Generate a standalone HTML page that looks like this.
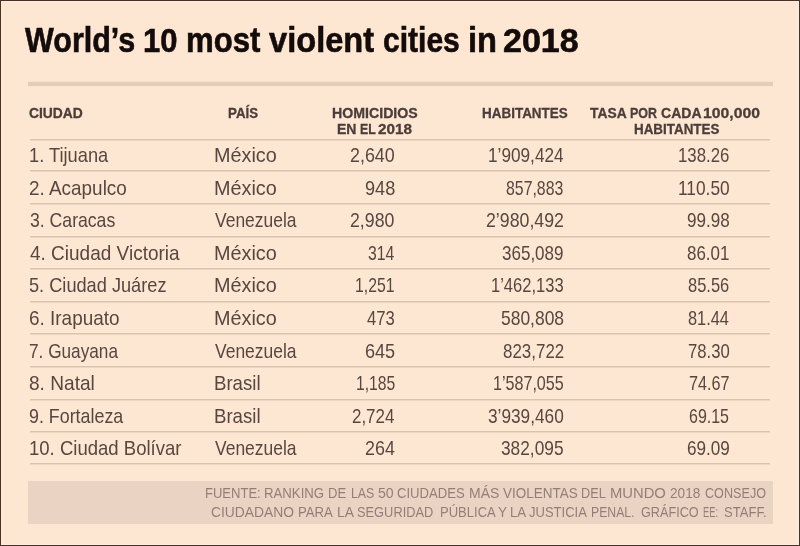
<!DOCTYPE html>
<html><head><meta charset="utf-8"><title>World’s 10 most violent cities in 2018</title>
<style>
html,body{margin:0;padding:0;width:800px;height:546px;overflow:hidden;background:#fde6d2}
#bd{position:absolute;left:0;top:0;width:800px;height:546px;box-sizing:border-box;border:1px solid #4a3122;box-shadow:inset 0 0 0 1px #fdece0;z-index:5}
span{position:absolute;white-space:nowrap;transform-origin:0 0;font-family:"Liberation Sans",sans-serif}
.title{font-size:35px;line-height:42px;font-weight:700;color:#140c0a;-webkit-text-stroke:0.6px #140c0a}
.h{font-size:14.5px;line-height:17px;font-weight:700;color:#4b3d39;-webkit-text-stroke:0.3px #4b3d39}
.c{font-size:21px;line-height:25px;font-weight:400;color:#584741}
.f{font-size:15px;line-height:18px;font-weight:400;color:#937e77}
.thick{position:absolute;left:28px;width:745px;top:82px;height:4px;background:#e4cdb7;box-shadow:0 -1px 0 #f6e3cf,0 1px 0 #f8e6d3}
.ln{position:absolute;left:30px;width:740px;height:1px;background:#d9c1ab;box-shadow:0 1px 0 #ecd7c3,0 -1px 0 #feebd8}
.box{position:absolute;left:28px;top:481px;width:745px;height:43px;background:#ebd3c3}
.box2{position:absolute;left:768px;top:481px;width:5px;height:43px;background:#e9d4c2}
</style></head><body>
<div class="thick"></div>
<div class="ln" style="top:139px"></div><div class="ln" style="top:170px"></div><div class="ln" style="top:203px"></div><div class="ln" style="top:236px"></div><div class="ln" style="top:268px"></div><div class="ln" style="top:301px"></div><div class="ln" style="top:333px"></div><div class="ln" style="top:366px"></div><div class="ln" style="top:399px"></div><div class="ln" style="top:431px"></div><div class="ln" style="top:463px"></div>
<div class="box"></div><div class="box2"></div>
<span class="title" style="left:24.84px;top:19px;transform:scaleX(0.8717)">World’s</span><span class="title" style="left:143.03px;top:19px;transform-origin:0 33px;transform:scale(0.8860,0.955)">10</span><span class="title" style="left:185.90px;top:19px;transform:scaleX(0.8902)">most</span><span class="title" style="left:268.94px;top:19px;transform:scaleX(0.9319)">violent</span><span class="title" style="left:382.53px;top:19px;transform:scaleX(0.8582)">cities</span><span class="title" style="left:468.12px;top:19px;transform:scaleX(0.9323)">in</span><span class="title" style="left:503.29px;top:19px;transform-origin:0 33px;transform:scale(0.9726,0.94)">2018</span><span class="h" style="left:29.46px;top:105px;transform:scaleX(0.9543)">CIUDAD</span><span class="h" style="left:227.61px;top:105px;transform:scaleX(0.9173)">PAÍS</span><span class="h" style="left:332.15px;top:105px;transform:scaleX(0.9768)">HOMICIDIOS</span><span class="h" style="left:337.46px;top:121px;transform:scaleX(0.9681)">EN</span><span class="h" style="left:359.58px;top:121px;transform:scaleX(0.8494)">EL</span><span class="h" style="left:377.86px;top:121px;transform:scaleX(1.0529)">2018</span><span class="h" style="left:482.20px;top:105px;transform:scaleX(0.9286)">HABITANTES</span><span class="h" style="left:590.43px;top:105px;transform:scaleX(0.9543)">TASA</span><span class="h" style="left:630.37px;top:105px;transform:scaleX(0.8585)">POR</span><span class="h" style="left:660.96px;top:105px;transform:scaleX(0.9672)">CADA</span><span class="h" style="left:703.42px;top:105px;transform:scaleX(1.0858)">100,000</span><span class="h" style="left:633.90px;top:121px;transform:scaleX(0.9247)">HABITANTES</span><span class="c" style="left:28.91px;top:142px;transform:scaleX(0.8701)">1. Tijuana</span><span class="c" style="left:213.67px;top:142px;transform:scaleX(0.9439)">México</span><span class="c" style="left:350.08px;top:142px;transform:scaleX(0.8520)">2,640</span><span class="c" style="left:487.99px;top:142px;transform:scaleX(0.8193)">1’909,424</span><span class="c" style="left:677.92px;top:142px;transform:scaleX(0.8004)">138.26</span><span class="c" style="left:29.33px;top:175px;transform:scaleX(0.9010)">2. Acapulco</span><span class="c" style="left:213.67px;top:175px;transform:scaleX(0.9439)">México</span><span class="c" style="left:364.71px;top:175px;transform:scaleX(0.8637)">948</span><span class="c" style="left:506.46px;top:175px;transform:scaleX(0.7550)">857,883</span><span class="c" style="left:677.58px;top:175px;transform:scaleX(0.8241)">110.50</span><span class="c" style="left:29.50px;top:207px;transform:scaleX(0.8394)">3. Caracas</span><span class="c" style="left:215.03px;top:207px;transform:scaleX(0.8312)">Venezuela</span><span class="c" style="left:350.49px;top:207px;transform:scaleX(0.8441)">2,980</span><span class="c" style="left:485.99px;top:207px;transform:scaleX(0.8451)">2’980,492</span><span class="c" style="left:686.66px;top:207px;transform:scaleX(0.8137)">99.98</span><span class="c" style="left:29.85px;top:240px;transform:scaleX(0.9045)">4. Ciudad Victoria</span><span class="c" style="left:213.67px;top:240px;transform:scaleX(0.9439)">México</span><span class="c" style="left:368.19px;top:240px;transform:scaleX(0.7524)">314</span><span class="c" style="left:502.33px;top:240px;transform:scaleX(0.8102)">365,089</span><span class="c" style="left:687.01px;top:240px;transform:scaleX(0.8072)">86.01</span><span class="c" style="left:29.46px;top:272px;transform:scaleX(0.8659)">5. Ciudad Juárez</span><span class="c" style="left:213.67px;top:272px;transform:scaleX(0.9439)">México</span><span class="c" style="left:355.30px;top:272px;transform:scaleX(0.7530)">1,251</span><span class="c" style="left:491.24px;top:272px;transform:scaleX(0.7872)">1’462,133</span><span class="c" style="left:688.13px;top:272px;transform:scaleX(0.7848)">85.56</span><span class="c" style="left:29.29px;top:305px;transform:scaleX(0.9016)">6. Irapuato</span><span class="c" style="left:213.67px;top:305px;transform:scaleX(0.9439)">México</span><span class="c" style="left:367.11px;top:305px;transform:scaleX(0.7936)">473</span><span class="c" style="left:500.79px;top:305px;transform:scaleX(0.8304)">580,808</span><span class="c" style="left:688.14px;top:305px;transform:scaleX(0.7793)">81.44</span><span class="c" style="left:29.40px;top:338px;transform:scaleX(0.8198)">7. Guayana</span><span class="c" style="left:215.03px;top:338px;transform:scaleX(0.8312)">Venezuela</span><span class="c" style="left:364.73px;top:338px;transform:scaleX(0.8606)">645</span><span class="c" style="left:502.61px;top:338px;transform:scaleX(0.8068)">823,722</span><span class="c" style="left:687.53px;top:338px;transform:scaleX(0.7948)">78.30</span><span class="c" style="left:29.41px;top:370px;transform:scaleX(0.9097)">8. Natal</span><span class="c" style="left:213.77px;top:370px;transform:scaleX(0.8868)">Brasil</span><span class="c" style="left:355.50px;top:370px;transform:scaleX(0.7478)">1,185</span><span class="c" style="left:493.07px;top:370px;transform:scaleX(0.7664)">1’587,055</span><span class="c" style="left:688.86px;top:370px;transform:scaleX(0.7717)">74.67</span><span class="c" style="left:29.42px;top:403px;transform:scaleX(0.8499)">9. Fortaleza</span><span class="c" style="left:213.77px;top:403px;transform:scaleX(0.8868)">Brasil</span><span class="c" style="left:352.23px;top:403px;transform:scaleX(0.8065)">2,724</span><span class="c" style="left:488.02px;top:403px;transform:scaleX(0.8212)">3’939,460</span><span class="c" style="left:689.35px;top:403px;transform:scaleX(0.7606)">69.15</span><span class="c" style="left:28.89px;top:435px;transform:scaleX(0.8824)">10. Ciudad Bolívar</span><span class="c" style="left:215.03px;top:435px;transform:scaleX(0.8312)">Venezuela</span><span class="c" style="left:364.78px;top:435px;transform:scaleX(0.8516)">264</span><span class="c" style="left:501.22px;top:435px;transform:scaleX(0.8237)">382,095</span><span class="c" style="left:686.59px;top:435px;transform:scaleX(0.8156)">69.09</span><span class="f" style="left:205.11px;top:484px;transform:scaleX(0.8680)">FUENTE:</span><span class="f" style="left:264.10px;top:484px;transform:scaleX(0.8798)">RANKING</span><span class="f" style="left:328.11px;top:484px;transform:scaleX(0.8698)">DE</span><span class="f" style="left:350.57px;top:484px;transform:scaleX(0.8236)">LAS</span><span class="f" style="left:377.81px;top:484px;transform:scaleX(0.9403)">50</span><span class="f" style="left:397.29px;top:484px;transform:scaleX(0.8747)">CIUDADES</span><span class="f" style="left:468.83px;top:484px;transform:scaleX(0.9320)">MÁS</span><span class="f" style="left:502.54px;top:484px;transform:scaleX(0.8981)">VIOLENTAS</span><span class="f" style="left:580.53px;top:484px;transform:scaleX(0.8490)">DEL</span><span class="f" style="left:609.96px;top:484px;transform:scaleX(0.9849)">MUNDO</span><span class="f" style="left:669.62px;top:484px;transform:scaleX(0.9074)">2018</span><span class="f" style="left:704.52px;top:484px;transform:scaleX(0.8415)">CONSEJO</span><span class="f" style="left:211.25px;top:503px;transform:scaleX(0.9226)">CIUDADANO</span><span class="f" style="left:298.40px;top:503px;transform:scaleX(0.8760)">PARA</span><span class="f" style="left:336.84px;top:503px;transform:scaleX(0.9235)">LA</span><span class="f" style="left:357.23px;top:503px;transform:scaleX(0.8558)">SEGURIDAD</span><span class="f" style="left:439.51px;top:503px;transform:scaleX(0.8696)">PÚBLICA</span><span class="f" style="left:498.37px;top:503px;transform:scaleX(0.9057)">Y</span><span class="f" style="left:509.69px;top:503px;transform:scaleX(0.8818)">LA</span><span class="f" style="left:529.04px;top:503px;transform:scaleX(0.8686)">JUSTICIA</span><span class="f" style="left:590.58px;top:503px;transform:scaleX(0.8151)">PENAL.</span><span class="f" style="left:640.52px;top:503px;transform:scaleX(0.8439)">GRÁFICO</span><span class="f" style="left:702.82px;top:503px;transform:scaleX(0.6226)">EE:</span><span class="f" style="left:724.01px;top:503px;transform:scaleX(0.8707)">STAFF.</span>
<div id="bd"></div>
</body></html>
